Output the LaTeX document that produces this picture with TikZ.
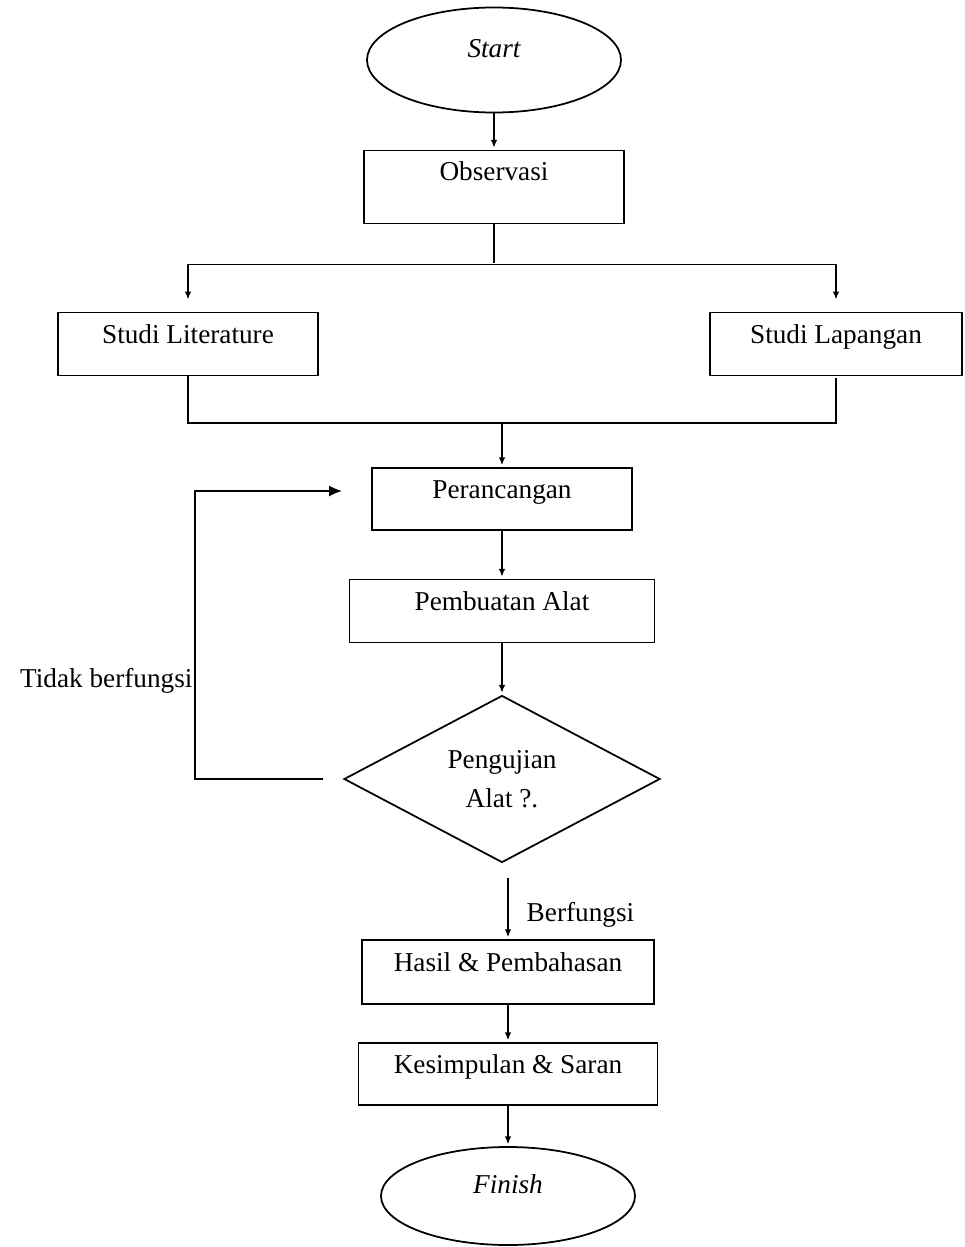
\documentclass[tikz,border=0pt]{standalone}
\usepackage{fontspec}
\setmainfont{Liberation Serif}
\usetikzlibrary{shapes.geometric, positioning, arrows.meta}

\begin{document}
\begin{tikzpicture}[shorten >=1pt, on grid, auto, line width=1pt,
    >={Latex[length=1.6mm,width=1.3mm]},
    font=\fontsize{15.5}{18}\selectfont,
    box/.style={draw, rectangle, inner sep=0pt, text height=0.4cm, text depth=0.42cm},
    terminal/.style={draw, ellipse, inner sep=0pt, minimum width=5.08cm, minimum height=2.1cm,
      text height=0.4cm, text depth=0.5cm, font=\fontsize{15.5}{18}\selectfont\itshape},
    decision/.style={draw, diamond, inner sep=0pt, align=center, minimum width=6.32cm, minimum height=3.34cm}]
  \useasboundingbox (0,0) rectangle (19.28,-24.94);
  \node[terminal] (start) at (9.88,-1.2) {Start};
  \node[box, minimum width=5.2cm, minimum height=1.46cm, text depth=0.66cm] (obs) [below=2.54cm of start] {Observasi};
  \node[box, minimum width=5.2cm, minimum height=1.26cm] (lit) [below left=3.14cm and 6.12cm of obs] {Studi Literature};
  \node[box, minimum width=5.04cm, minimum height=1.26cm] (lap) [below right=3.14cm and 6.84cm of obs] {Studi Lapangan};
  \node[box, minimum width=5.2cm, minimum height=1.24cm] (per) [below right=6.24cm and 0.16cm of obs] {Perancangan};
  \node[box, minimum width=6.1cm, minimum height=1.26cm] (pem) [below=2.24cm of per] {Pembuatan Alat};
  \node[decision] (uji) [below=3.36cm of pem] {Pengujian\\[4pt]Alat ?.};
  \node[box, minimum width=5.84cm, minimum height=1.28cm] (hasil) [below right=3.86cm and 0.12cm of uji] {Hasil \& Pembahasan};
  \node[box, minimum width=5.98cm, minimum height=1.24cm] (kes) [below=2.04cm of hasil] {Kesimpulan \& Saran};
  \node[terminal, minimum height=1.96cm] (fin) [below=2.44cm of kes] {Finish};

  \coordinate (fork) at ([yshift=-0.8cm]obs.south);
  \coordinate (join) at ([yshift=0.88cm]per.north);

  \draw[->] (start) -- (obs);
  \draw (obs) -- (fork);
  \draw[->, shorten >=0.24cm] (fork) -| (lit);
  \draw[->, shorten >=0.24cm] (fork) -| (lap);
  \draw (lit) |- (join) -| (lap);
  \draw[->] (join) -- (per);
  \draw[->] (per) -- (pem);
  \draw[->] (pem) -- (uji);
  \draw[->, shorten <=0.3cm] (hasil.north |- uji.south) -- node[pos=0.68, anchor=west, xshift=0.24cm] {Berfungsi} (hasil);
  \draw[->] (hasil) -- (kes);
  \draw[->] (kes) -- (fin);
  \draw[->, shorten <=0.4cm, shorten >=0.58cm, >={Latex[length=2.6mm,width=2.2mm]}]
    (uji.west) -- ++(-2.96cm,0)
    |- node[pos=0.17, anchor=east, inner sep=1pt] {Tidak berfungsi} ([yshift=0.16cm]per.west);
\end{tikzpicture}
\end{document}
